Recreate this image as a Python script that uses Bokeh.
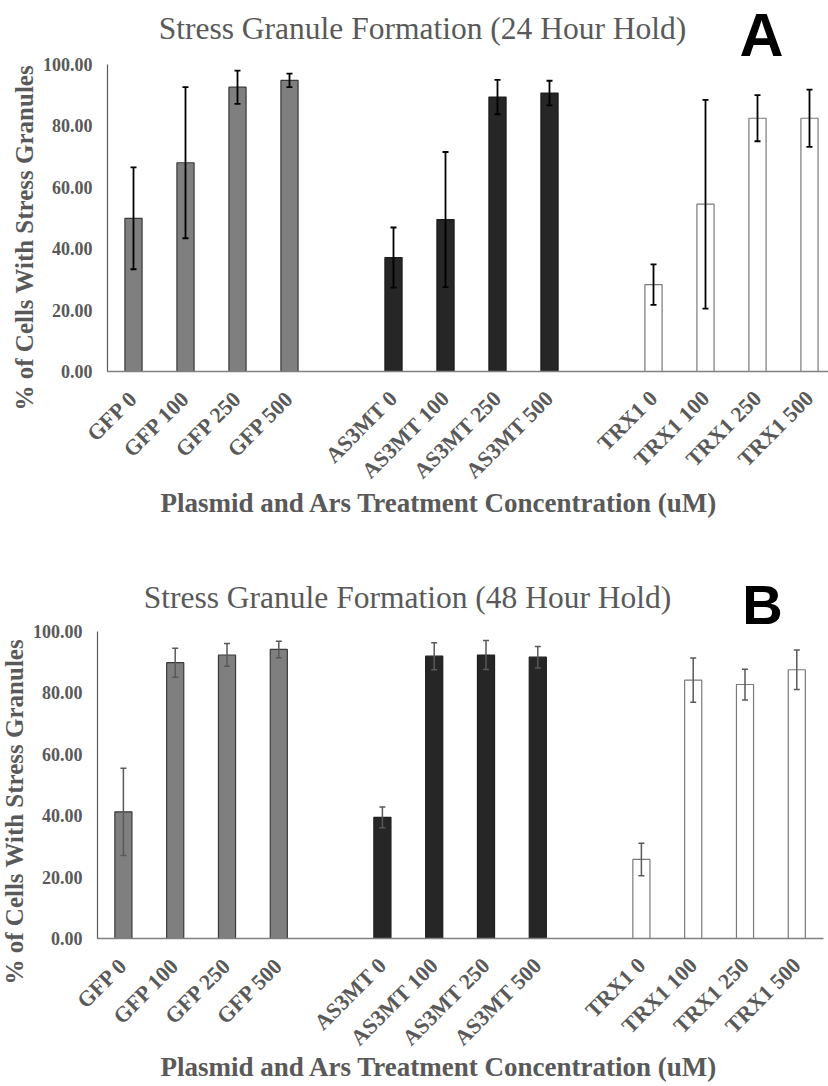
import math
from bokeh.plotting import figure
from bokeh.models import (ColumnDataSource, Whisker, TeeHead, Label, FixedTicker,
                          NumeralTickFormatter, Range1d, Title)
from bokeh.layouts import column
from bokeh.embed import file_html
from bokeh.resources import INLINE

# ---------------- data ----------------
groups = ["GFP", "AS3MT", "TRX1"]
concentrations = ["0", "100", "250", "500"]

# Panel A: 24 hour hold
a_means = [49.9, 68.0, 92.6, 94.8, 37.1, 49.5, 89.4, 90.7, 28.3, 54.5, 82.5, 82.5]
a_errors = [16.6, 24.6, 5.4, 2.2, 9.8, 22.0, 5.6, 4.0, 6.6, 34.0, 7.5, 9.3]

# Panel B: 48 hour hold
b_means = [41.2, 89.7, 92.2, 94.0, 39.4, 91.8, 92.2, 91.5, 25.7, 84.0, 82.6, 87.4]
b_errors = [14.2, 4.7, 3.7, 2.7, 3.4, 4.4, 4.7, 3.5, 5.3, 7.2, 5.0, 6.4]

title_a = "Stress Granule Formation (24 Hour Hold)"
title_b = "Stress Granule Formation (48 Hour Hold)"
y_label = "% of Cells With Stress Granules"
x_label = "Plasmid and Ars Treatment Concentration (uM)"
y_ticks = [0, 20, 40, 60, 80, 100]

# ---------------- style ----------------
group_fill = ["#7f7f7f", "#262626", "#ffffff"]
group_line = ["#3a3a3a", "#1e1e1e", "#7a7a7a"]
SERIF = "Liberation Serif"
SANS = "Liberation Sans"
TEXT = "#595959"


def build_positions():
    xs, labels, fills, lines = [], [], [], []
    n = len(concentrations)
    for gi, g in enumerate(groups):
        for ci, c in enumerate(concentrations):
            xs.append(gi * (n + 1) + ci)
            labels.append(f"{g} {c}")
            fills.append(group_fill[gi])
            lines.append(group_line[gi])
    return xs, labels, fills, lines


def make_panel(means, errors, title, letter, cfg):
    xs, labels, fills, lines = build_positions()
    upper = [m + e for m, e in zip(means, errors)]
    lower = [m - e for m, e in zip(means, errors)]
    src = ColumnDataSource(dict(x=xs, top=means, upper=upper, lower=lower,
                                fill=fills, line=lines))

    top = cfg["canvas_top"]
    fl, fw = cfg["frame_left"], cfg["frame_w"]
    zero_px = cfg["zero_px"] - top        # canvas y of value 0 (frame bottom)
    hundred_px = cfg["hundred_px"] - top  # canvas y of value 100
    px_per_unit = (zero_px - hundred_px) / 100.0
    fh = int(round(zero_px))
    slot = cfg["slot"]
    x0 = -0.5
    x1 = x0 + fw / slot
    y1 = fh / px_per_unit

    p = figure(frame_width=fw, frame_height=fh,
               min_border_left=fl, min_border_top=0,
               min_border_bottom=cfg["height"] - fh, min_border_right=cfg["right"],
               x_range=Range1d(x0, x1), y_range=Range1d(0, y1),
               output_backend="svg", toolbar_location=None,
               background_fill_color="white", border_fill_color="white")
    if hasattr(p, "frame_align"):
        p.frame_align = False
    p.outline_line_color = None
    p.xgrid.visible = False
    p.ygrid.visible = False

    p.vbar(x="x", top="top", bottom=0, width=0.33, fill_color="fill",
           line_color="line", line_width=1.2, source=src)

    head = dict(size=6, line_color=cfg["err_color"], line_width=cfg["err_width"])
    w = Whisker(source=src, base="x", upper="upper", lower="lower",
                line_color=cfg["err_color"], line_width=cfg["err_width"],
                upper_head=TeeHead(**head), lower_head=TeeHead(**head),
                level="overlay")
    p.add_layout(w)

    # x axis
    xa = p.xaxis[0]
    xa.ticker = FixedTicker(ticks=xs)
    xa.major_label_overrides = {t: lab for t, lab in zip(xs, labels)}
    xa.major_label_orientation = math.pi / 4
    xa.major_label_text_font = SERIF
    xa.major_label_text_font_style = "bold"
    xa.major_label_text_font_size = "22px"
    xa.major_label_text_color = TEXT
    xa.major_label_standoff = 17
    xa.axis_label_standoff = 0
    xa.major_tick_line_color = None
    xa.minor_tick_line_color = None
    xa.axis_line_color = "#808080"
    xa.axis_line_width = 1.5

    # y axis
    ya = p.yaxis[0]
    ya.ticker = FixedTicker(ticks=y_ticks)
    ya.bounds = (y_ticks[0], y_ticks[-1])
    ya.formatter = NumeralTickFormatter(format="0.00")
    ya.major_label_text_font = SERIF
    ya.major_label_text_font_style = "bold"
    ya.major_label_text_font_size = "18px"
    ya.major_label_text_color = TEXT
    ya.major_tick_out = 0
    ya.major_tick_in = 0
    ya.major_label_standoff = 15
    ya.axis_label_standoff = 0
    ya.major_tick_line_color = None
    ya.minor_tick_line_color = None
    ya.axis_line_color = "#595959"
    ya.axis_line_width = 1.2

    def dx(sx):
        return x0 + (sx - fl) / fw * (x1 - x0)

    def dy(sy):
        return (zero_px - (sy - top)) / px_per_unit

    tpos = cfg["title_pos"]
    p.add_layout(Label(x=dx(tpos[0]), y=dy(tpos[1]), text=title, text_font=SERIF,
                       text_font_size="31.5px", text_color=TEXT, text_align="center",
                       text_baseline="middle"))
    lpos = cfg["letter_pos"]
    p.add_layout(Label(x=dx(lpos[0]), y=dy(lpos[1]), text=letter, text_font=SANS,
                       text_font_style="bold", text_font_size=cfg["letter_size"],
                       text_color="black", text_align="center", text_baseline="middle"))

    # y-axis title (left side), x-axis title (below)
    p.add_layout(Title(text=y_label, text_font=SERIF, text_font_style="bold",
                       text_font_size="25px", text_color=TEXT, align="left",
                       vertical_align="top",
                       offset=cfg["ylabel_offset"], standoff=cfg["ylabel_standoff"]), "left")
    p.add_layout(Title(text=x_label, text_font=SERIF, text_font_style="bold",
                       text_font_size="27px", text_color=TEXT, align="left",
                       offset=cfg["xlabel_offset"], standoff=cfg["xlabel_standoff"]), "below")
    return p


cfg_a = dict(canvas_top=0, height=560, frame_left=107, frame_w=721, right=0,
             zero_px=371, hundred_px=64, slot=52.0,
             err_color="#000000", err_width=1.8,
             title_pos=(422, 28), letter_pos=(761, 34), letter_size="61px",
             ylabel_offset=-39, ylabel_standoff=0,
             xlabel_offset=53, xlabel_standoff=-20)
cfg_b = dict(canvas_top=560, height=526, frame_left=97, frame_w=726, right=5,
             zero_px=937.5, hundred_px=630, slot=51.8,
             err_color="#595959", err_width=1.5,
             title_pos=(407, 596), letter_pos=(762, 603), letter_size="56px",
             ylabel_offset=-46, ylabel_standoff=0,
             xlabel_offset=63, xlabel_standoff=-26)

pa = make_panel(a_means, a_errors, title_a, "A", cfg_a)
pb = make_panel(b_means, b_errors, title_b, "B", cfg_b)

layout = column(pa, pb, spacing=0)
open("out.html", "w").write(file_html(layout, INLINE))
